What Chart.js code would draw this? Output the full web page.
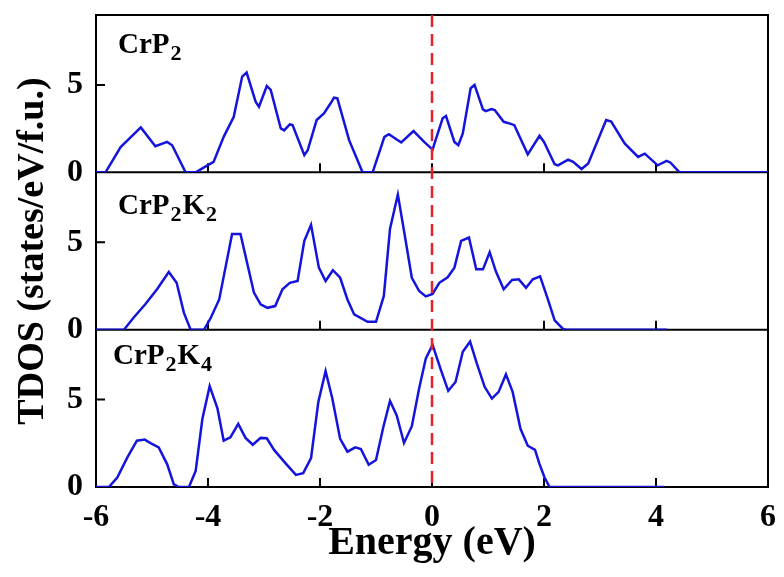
<!DOCTYPE html>
<html><head><meta charset="utf-8">
<script src="https://cdn.jsdelivr.net/npm/chart.js@4/dist/chart.umd.min.js"></script>
<style>html,body{margin:0;padding:0;background:#fff}</style>
</head><body>
<canvas id="c" width="784" height="577"></canvas>
<script>
// ---- data ----
const energyCrP2 = [-6,-5.83,-5.56,-5.2,-4.94,-4.73,-4.64,-4.4,-4.22,-4.01,-3.9,-3.72,-3.54,-3.39,-3.31,-3.15,-3.09,-2.95,-2.88,-2.70,-2.64,-2.54,-2.49,-2.28,-2.22,-2.06,-1.93,-1.81,-1.75,-1.69,-1.48,-1.24,-1.06,-0.85,-0.77,-0.55,-0.33,-0.14,0.01,0.19,0.25,0.4,0.47,0.55,0.69,0.76,0.91,0.96,1.06,1.12,1.28,1.38,1.47,1.71,1.92,2.0,2.19,2.25,2.43,2.52,2.67,2.79,3.11,3.2,3.44,3.68,3.8,4.03,4.19,4.26,4.42,6];
const dosCrP2 = [0,0,1.45,2.57,1.49,1.74,1.55,0,0,0.4,0.6,2.03,3.18,5.48,5.71,4.04,3.75,4.94,4.71,2.51,2.4,2.74,2.7,0.98,1.26,2.99,3.37,3.95,4.27,4.23,1.84,0,0,2.03,2.18,1.71,2.36,1.74,1.3,3.09,3.22,1.74,1.55,2.22,4.81,5.0,3.6,3.5,3.62,3.56,2.89,2.8,2.7,1.03,2.09,1.74,0.46,0.4,0.73,0.6,0.19,0.5,2.99,2.9,1.65,0.88,1.07,0.4,0.65,0.55,0,0];

const energyCrP2K2 = [-6,-5.5,-5.33,-5.12,-4.91,-4.70,-4.56,-4.43,-4.31,-4.07,-3.95,-3.8,-3.57,-3.42,-3.18,-3.06,-2.94,-2.8,-2.67,-2.54,-2.4,-2.28,-2.16,-2.02,-1.9,-1.77,-1.64,-1.51,-1.39,-1.15,-1.0,-0.86,-0.75,-0.61,-0.5,-0.36,-0.23,-0.11,0.01,0.13,0.28,0.4,0.52,0.66,0.79,0.91,1.03,1.14,1.28,1.43,1.55,1.68,1.8,1.93,2.07,2.19,2.34,2.4,4.2];
const dosCrP2K2 = [0,0,0.68,1.45,2.31,3.3,2.68,0.96,0,0,0.68,1.73,5.47,5.47,2.12,1.45,1.25,1.35,2.31,2.68,2.78,5.08,6.0,3.55,2.78,3.4,2.97,1.73,0.87,0.45,0.45,1.93,5.76,7.73,5.66,2.97,2.21,1.9,2.04,2.68,3.0,3.55,5.08,5.27,3.45,3.45,4.43,3.34,2.31,2.84,2.88,2.4,2.88,3.05,1.73,0.53,0.04,0,0];

const energyCrP2K4 = [-6,-5.77,-5.62,-5.44,-5.27,-5.13,-5.0,-4.88,-4.73,-4.61,-4.52,-4.34,-4.22,-4.1,-3.97,-3.83,-3.72,-3.6,-3.46,-3.33,-3.2,-3.06,-2.95,-2.82,-2.61,-2.43,-2.3,-2.16,-2.03,-1.9,-1.78,-1.64,-1.51,-1.37,-1.27,-1.13,-1.0,-0.87,-0.75,-0.63,-0.5,-0.36,-0.23,-0.11,0.01,0.16,0.29,0.42,0.55,0.68,0.8,0.94,1.07,1.19,1.32,1.44,1.58,1.71,1.84,1.92,2.01,2.1,4.15];
const dosCrP2K4 = [0,0,0.54,1.69,2.65,2.71,2.46,2.27,1.31,0.15,0,0,0.92,3.9,5.77,4.48,2.65,2.84,3.61,2.81,2.42,2.81,2.79,2.12,1.34,0.69,0.79,1.65,4.86,6.63,5.06,2.75,2.02,2.27,2.17,1.27,1.54,3.42,4.92,4.09,2.52,3.48,5.63,7.36,8.13,6.69,5.5,6.01,7.74,8.32,7.07,5.73,5.06,5.44,6.44,5.44,3.33,2.36,2.12,1.31,0.54,0,0];

const panelNames = ['CrP_2', 'CrP_2K_2', 'CrP_2K_4'];
const xTickValues = [-6, -4, -2, 0, 2, 4, 6];
const yTickValues = [0, 5];
const fermiEnergy = 0;
const xTitle = 'Energy (eV)';
const yTitle = 'TDOS (states/eV/f.u.)';

// ---- chart ----
const FONT = "'Liberation Serif','Times New Roman',serif";
const BLUE = '#1414dc';
const panelAxes = ['yP2', 'yK2', 'yK4'];
const labelPos = [{dx: 22, dy: 38}, {dx: 22, dy: 42}, {dx: 17, dy: 34}];

function pts(xs, ys) { return xs.map((x, i) => ({x: x, y: ys[i]})); }

const framePlugin = {
  id: 'frame',
  beforeDatasetsDraw(chart) {
    const ctx = chart.ctx, a = chart.chartArea, xs = chart.scales.x;
    ctx.save();
    ctx.strokeStyle = '#000';
    ctx.lineWidth = 2;
    ctx.strokeRect(a.left, a.top, a.right - a.left, a.bottom - a.top);
    ctx.beginPath();
    panelAxes.forEach(id => {
      const s = chart.scales[id];
      ctx.moveTo(a.left, s.bottom); ctx.lineTo(a.right, s.bottom);
      xTickValues.forEach(v => {
        if (v <= xs.min || v >= xs.max) return;
        const px = xs.getPixelForValue(v);
        ctx.moveTo(px, s.bottom); ctx.lineTo(px, s.bottom - 9);
      });
      yTickValues.forEach(v => {
        if (v <= s.min || v >= s.max) return;
        const py = s.getPixelForValue(v);
        ctx.moveTo(a.left, py); ctx.lineTo(a.left + 9, py);
      });
    });
    ctx.stroke();
    ctx.restore();
  },
  afterDatasetsDraw(chart) {
    const ctx = chart.ctx, a = chart.chartArea, xs = chart.scales.x;
    ctx.save();
    // Fermi level
    const fx = xs.getPixelForValue(fermiEnergy);
    ctx.strokeStyle = '#e8202a';
    ctx.lineWidth = 2.5;
    ctx.setLineDash([12, 7]);
    ctx.beginPath(); ctx.moveTo(fx, a.top); ctx.lineTo(fx, a.bottom); ctx.stroke();
    ctx.setLineDash([]);
    // panel labels
    ctx.fillStyle = '#000';
    ctx.textBaseline = 'alphabetic';
    ctx.textAlign = 'left';
    panelAxes.forEach((id, i) => {
      const s = chart.scales[id];
      let x = a.left + labelPos[i].dx;
      const y = s.top + labelPos[i].dy;
      const parts = panelNames[i].split(/(_\d)/).filter(p => p.length);
      parts.forEach(p => {
        if (p[0] === '_') {
          ctx.font = 'bold 22px ' + FONT;
          ctx.fillText(p.slice(1), x, y + 7);
          x += ctx.measureText(p.slice(1)).width + 1;
        } else {
          ctx.font = 'bold 29px ' + FONT;
          ctx.fillText(p, x, y);
          x += ctx.measureText(p).width + 1;
        }
      });
    });
    ctx.restore();
  }
};

function yAxis(showTitle) {
  return {
    type: 'linear', position: 'left', stack: 'tdos', stackWeight: 1, offset: false,
    min: 0, max: 9,
    grid: {display: false, drawTicks: false}, border: {display: false},
    afterBuildTicks: s => { s.ticks = yTickValues.map(v => ({value: v})); },
    afterFit: s => { s.width = 96; s.paddingTop = 0; s.paddingBottom = 0; },
    ticks: {color: '#000', padding: 13, font: {family: FONT, size: 32, weight: 'bold'}},
    title: {display: showTitle, text: yTitle, color: '#000',
            font: {family: FONT, size: 38, weight: 'bold'}, padding: {top: 10, bottom: 0}}
  };
}

new Chart(document.getElementById('c'), {
  type: 'line',
  data: {
    datasets: [
      {data: pts(energyCrP2, dosCrP2), yAxisID: 'yP2'},
      {data: pts(energyCrP2K2, dosCrP2K2), yAxisID: 'yK2'},
      {data: pts(energyCrP2K4, dosCrP2K4), yAxisID: 'yK4'}
    ].map(d => Object.assign(d, {borderColor: BLUE, borderWidth: 2.5, pointRadius: 0, tension: 0, fill: false}))
  },
  options: {
    responsive: false, animation: false, devicePixelRatio: 1,
    layout: {padding: {top: 15, right: 16, left: 0, bottom: 0}},
    plugins: {legend: {display: false}, tooltip: {enabled: false}},
    scales: {
      x: {
        type: 'linear', position: 'bottom', min: -6, max: 6,
        grid: {display: false, drawTicks: false}, border: {display: false},
        afterBuildTicks: s => { s.ticks = xTickValues.map(v => ({value: v})); },
        afterFit: s => { s.height = 90; s.paddingLeft = 0; s.paddingRight = 0; },
        ticks: {color: '#000', padding: 12, font: {family: FONT, size: 32, weight: 'bold'}},
        title: {display: true, text: xTitle, color: '#000',
                font: {family: FONT, size: 40, weight: 'bold'}, padding: {top: 0, bottom: 9}}
      },
      yK4: yAxis(false),
      yK2: yAxis(true),
      yP2: yAxis(false)
    }
  },
  plugins: [framePlugin]
});
</script>
</body></html>
